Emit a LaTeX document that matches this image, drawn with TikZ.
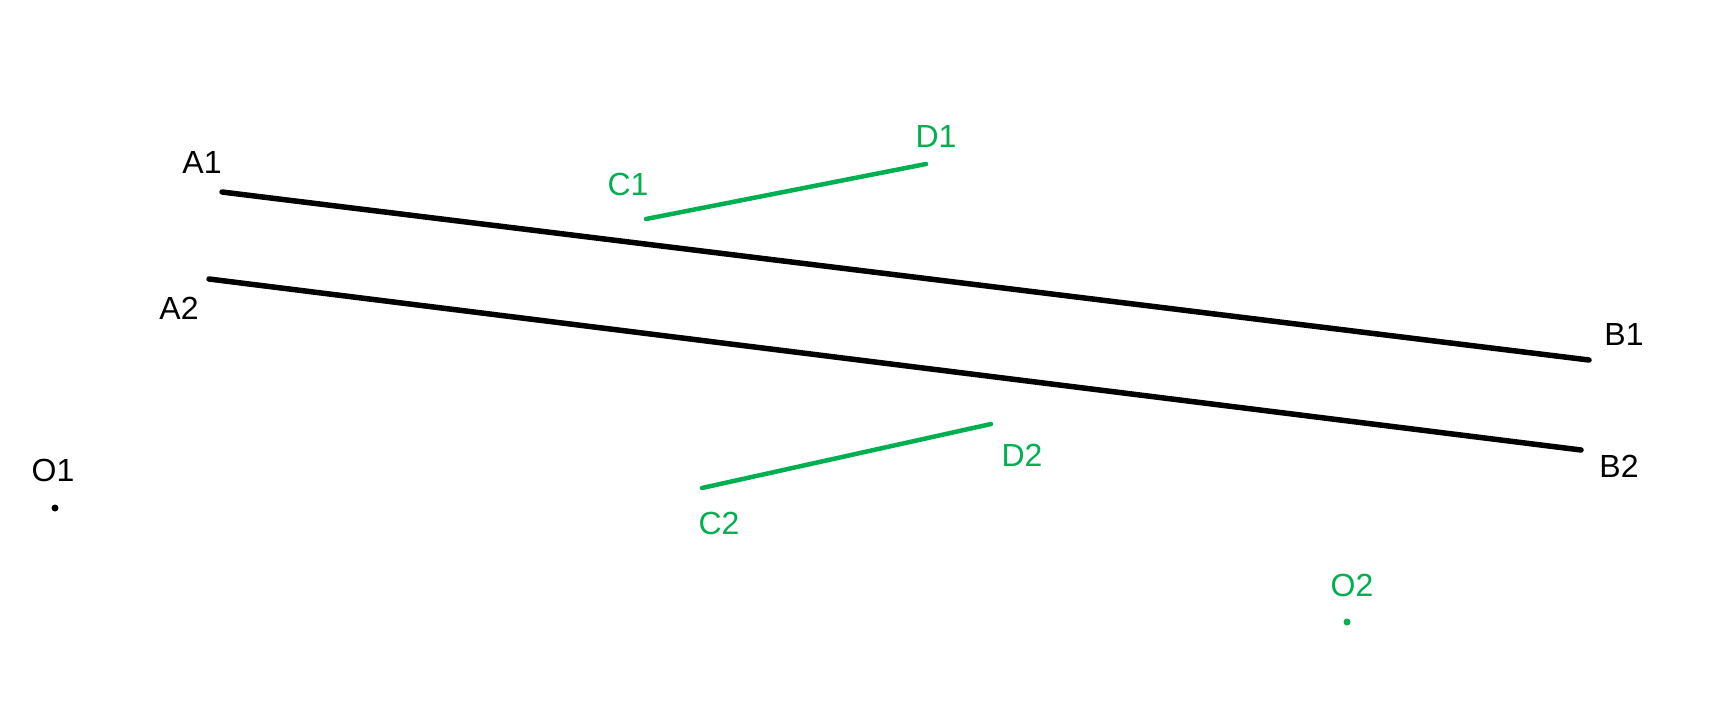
\documentclass[tikz,border=0pt]{standalone}
\usepackage{fontspec}
\setmainfont{Liberation Sans}
\definecolor{segGreen}{RGB}{0,176,80}
\tikzset{
  lbl/.style={inner sep=0pt,font=\fontsize{32}{38}\selectfont},
  blackseg/.style={line width=5.5pt,line cap=round},
  greenseg/.style={line width=4.5pt,line cap=round,segGreen},
}
\begin{document}
\begin{tikzpicture}[x=1pt,y=-1pt]
\useasboundingbox (0,0) rectangle (1720,718);
% end points
\coordinate (a1) at (222,192);
\coordinate (b1) at (1589,360);
\coordinate (a2) at (209,279);
\coordinate (b2) at (1581,450);
\coordinate (c1) at (646,219);
\coordinate (d1) at (926,164);
\coordinate (c2) at (702,488);
\coordinate (d2) at (991,424);
\coordinate (o1) at (55,508);
\coordinate (o2) at (1347,622);
% labels
\path
node[lbl] (la1) at (202,162) {A1}
node[lbl] (la2) at (179,308) {A2}
node[lbl] (lb1) at (1624,334) {B1}
node[lbl] (lb2) at (1619,466) {B2}
node[lbl] (lo1) at (53,470) {O1}
node[lbl,segGreen] (lc1) at (628,184) {C1}
node[lbl,segGreen] (ld1) at (936,136) {D1}
node[lbl,segGreen] (lc2) at (719,523) {C2}
node[lbl,segGreen] (ld2) at (1022,455) {D2}
node[lbl,segGreen] (lo2) at (1352,585) {O2};
\draw[blackseg] (a1) -- (b1);
\draw[blackseg] (a2) -- (b2);
\draw[greenseg] (c1) -- (d1);
\draw[greenseg] (c2) -- (d2);
\fill (o1) circle (3.5pt);
\fill[segGreen] (o2) circle (3.5pt);
\end{tikzpicture}
\end{document}
